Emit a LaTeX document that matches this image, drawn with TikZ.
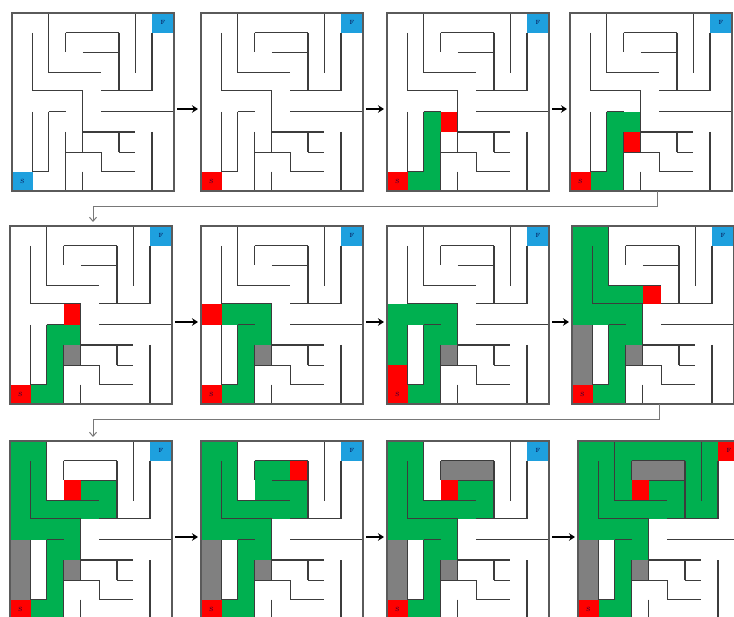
\documentclass[tikz,border=0pt]{standalone}
\usetikzlibrary{arrows.meta}
\definecolor{mzgreen}{RGB}{0,176,80}
\definecolor{mzred}{RGB}{255,0,0}
\definecolor{mzblue}{RGB}{30,160,222}
\definecolor{mzgray}{RGB}{128,128,128}
\definecolor{mzwall}{RGB}{60,60,60}
\definecolor{mzframe}{RGB}{90,90,90}
\definecolor{mzlink}{RGB}{120,120,120}

\newcommand\GX[1]{\ifcase#1 0\or 20.7\or 36.6\or 53.6\or 70.8\or 89.3\or 106.9\or 123.4\or 140\or 162\fi}
\newcommand\GY[1]{\ifcase#1 0\or 19.8\or 39.5\or 59.6\or 77.6\or 98.8\or 119\or 139.2\or 158.6\or 178\fi}

\newcommand\mzW[4]{\edef\mzax{\GX{#1}}\edef\mzay{\GY{#2}}\edef\mzbx{\GX{#3}}\edef\mzby{\GY{#4}}\draw[wallst] (\mzax,\mzay) -- (\mzbx,\mzby);}
\newcommand\mzC[3]{\edef\mzax{\GX{#1}}\edef\mzay{\GY{#2}}\edef\mzbx{\GX{\numexpr#1+1\relax}}\edef\mzby{\GY{\numexpr#2+1\relax}}\fill[#3] (\mzax,\mzay) rectangle (\mzbx,\mzby);}

\newcommand\mzwalls{%
 \mzW{2}{0}{2}{3}\mzW{2}{3}{5}{3}\mzW{1}{1}{1}{4}\mzW{1}{4}{4}{4}\mzW{4}{4}{4}{7}%
 \mzW{3}{1}{6}{1}\mzW{3}{1}{3}{2}\mzW{6}{1}{6}{4}\mzW{4}{2}{6}{2}\mzW{7}{0}{7}{3}%
 \mzW{8}{1}{8}{4}\mzW{5}{4}{8}{4}\mzW{5}{5}{9}{5}\mzW{1}{5}{1}{8}\mzW{1}{8}{2}{8}%
 \mzW{2}{5}{2}{8}\mzW{2}{5}{3}{5}\mzW{3}{6}{3}{9}\mzW{3}{7}{5}{7}\mzW{5}{7}{5}{8}%
 \mzW{5}{8}{7}{8}\mzW{4}{8}{4}{9}\mzW{4}{6}{7}{6}\mzW{6}{6}{6}{7}\mzW{6}{7}{7}{7}%
 \mzW{8}{6}{8}{9}}

\newcommand\mzpanel[4]{%
 \begin{scope}[shift={(#2,#3)}]
  #4
  \mzwalls
  \node[lbl] (#1S) at (10.35,168.3) {S};
  \node[lbl] (#1F) at (151,9.9) {F};
  \node[frame] (#1) at (0,0) {};
  \coordinate (#1L) at (0,96);
  \coordinate (#1R) at (162,96);
  \coordinate (#1T) at (83,0);
  \coordinate (#1B) at (87,178);
 \end{scope}}

% path states
\newcommand\stA{\mzC{1}{8}{mzgreen}\mzC{2}{8}{mzgreen}\mzC{2}{7}{mzgreen}\mzC{2}{6}{mzgreen}\mzC{2}{5}{mzgreen}}
\newcommand\stB{\stA\mzC{3}{5}{mzgreen}\mzC{3}{6}{mzgray}}
\newcommand\stC{\stB\mzC{3}{4}{mzgreen}\mzC{2}{4}{mzgreen}\mzC{1}{4}{mzgreen}\mzC{0}{4}{mzgreen}%
 \mzC{0}{5}{mzgray}\mzC{0}{6}{mzgray}\mzC{0}{7}{mzgray}%
 \mzC{0}{3}{mzgreen}\mzC{0}{2}{mzgreen}\mzC{0}{1}{mzgreen}\mzC{0}{0}{mzgreen}%
 \mzC{1}{0}{mzgreen}\mzC{1}{1}{mzgreen}\mzC{1}{2}{mzgreen}\mzC{1}{3}{mzgreen}\mzC{2}{3}{mzgreen}\mzC{3}{3}{mzgreen}}
\newcommand\stD{\stC\mzC{4}{3}{mzgreen}\mzC{5}{3}{mzgreen}\mzC{5}{2}{mzgreen}\mzC{4}{2}{mzgreen}}
\newcommand\stE{\stD\mzC{3}{1}{mzgray}\mzC{4}{1}{mzgray}\mzC{5}{1}{mzgray}\mzC{3}{2}{mzred}}

\tikzset{
 wallst/.style={draw=mzwall,line width=1.2pt},
 frame/.style={draw=mzframe,line width=1.3pt,anchor=north west,minimum width=162pt,minimum height=178pt,inner sep=0pt,outer sep=0pt},
 lbl/.style={inner sep=0pt,font=\fontsize{6}{6}\selectfont,text=black!75!blue},
 harr/.style={line width=2.6pt,black,-{Stealth[length=6pt,width=7.5pt]},shorten <=3pt,shorten >=3pt},
 ret/.style={draw=mzlink,line width=1pt,-{Straight Barb[length=4pt,width=7pt]},shorten >=4pt}
}

\begin{document}
\begin{tikzpicture}[x=1pt,y=-1pt]
\useasboundingbox (0,0) rectangle (734,617);
\fill[white] (0,0) rectangle (734,617);

% row 1
\mzpanel{p1}{12}{13}{\mzC{0}{8}{mzblue}\mzC{8}{0}{mzblue}}
\mzpanel{p2}{201}{13}{\mzC{0}{8}{mzred}\mzC{8}{0}{mzblue}}
\mzpanel{p3}{387}{13}{\mzC{0}{8}{mzred}\mzC{8}{0}{mzblue}\stA\mzC{3}{5}{mzred}}
\mzpanel{p4}{570}{13}{\mzC{0}{8}{mzred}\mzC{8}{0}{mzblue}\stA\mzC{3}{5}{mzgreen}\mzC{3}{6}{mzred}}
% row 2
\mzpanel{p5}{10}{226}{\mzC{0}{8}{mzred}\mzC{8}{0}{mzblue}\stB\mzC{3}{4}{mzred}}
\mzpanel{p6}{201}{226}{\mzC{0}{8}{mzred}\mzC{8}{0}{mzblue}\stB\mzC{3}{4}{mzgreen}\mzC{2}{4}{mzgreen}\mzC{1}{4}{mzgreen}\mzC{0}{4}{mzred}}
\mzpanel{p7}{387}{226}{\mzC{0}{8}{mzred}\mzC{8}{0}{mzblue}\stB\mzC{3}{4}{mzgreen}\mzC{2}{4}{mzgreen}\mzC{1}{4}{mzgreen}\mzC{0}{4}{mzgreen}\mzC{0}{5}{mzgreen}\mzC{0}{6}{mzgreen}\mzC{0}{7}{mzred}}
\mzpanel{p8}{572}{226}{\mzC{0}{8}{mzred}\mzC{8}{0}{mzblue}\stC\mzC{4}{3}{mzred}}
% row 3
\mzpanel{p9}{10}{441}{\mzC{0}{8}{mzred}\mzC{8}{0}{mzblue}\stD\mzC{3}{2}{mzred}}
\mzpanel{p10}{201}{441}{\mzC{0}{8}{mzred}\mzC{8}{0}{mzblue}\stD\mzC{3}{2}{mzgreen}\mzC{3}{1}{mzgreen}\mzC{4}{1}{mzgreen}\mzC{5}{1}{mzred}}
\mzpanel{p11}{387}{441}{\mzC{0}{8}{mzred}\mzC{8}{0}{mzblue}\stE}
\mzpanel{p12}{578}{441}{\mzC{0}{8}{mzred}\mzC{8}{0}{mzred}\stE
 \mzC{2}{2}{mzgreen}\mzC{2}{1}{mzgreen}\mzC{2}{0}{mzgreen}\mzC{3}{0}{mzgreen}\mzC{4}{0}{mzgreen}\mzC{5}{0}{mzgreen}\mzC{6}{0}{mzgreen}\mzC{7}{0}{mzgreen}%
 \mzC{6}{1}{mzgreen}\mzC{6}{2}{mzgreen}\mzC{6}{3}{mzgreen}\mzC{7}{3}{mzgreen}\mzC{7}{2}{mzgreen}\mzC{7}{1}{mzgreen}}

% arrows
\draw[harr] (p1R) -- (p2L);
\draw[harr] (p2R) -- (p3L);
\draw[harr] (p3R) -- (p4L);
\draw[harr] (p5R) -- (p6L);
\draw[harr] (p6R) -- (p7L);
\draw[harr] (p7R) -- (p8L);
\draw[harr] (p9R) -- (p10L);
\draw[harr] (p10R) -- (p11L);
\draw[harr] (p11R) -- (p12L);
\draw[ret] (p4B) -- ++(0,16) -| (p5T);
\draw[ret] (p8B) -- ++(0,16) -| (p9T);
\end{tikzpicture}
\end{document}
